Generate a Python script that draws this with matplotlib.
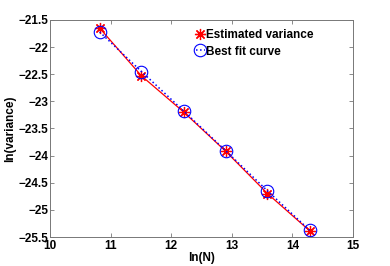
import matplotlib.pyplot as plt

# ln(N) for N = 50k ... 1.6M (doubling)
ln_n = [10.82, 11.51, 12.21, 12.90, 13.59, 14.29]
est_var = [-21.65, -22.53, -23.20, -23.92, -24.70, -25.39]
fit_var = [-21.72, -22.45, -23.18, -23.91, -24.65, -25.38]

xticks = [10, 11, 12, 13, 14, 15]
yticks = [-21.5, -22, -22.5, -23, -23.5, -24, -24.5, -25, -25.5]

plt.rcParams['font.family'] = ['Liberation Sans', 'DejaVu Sans']
plt.rcParams['font.weight'] = 'bold'

fig = plt.figure(figsize=(3.9, 2.66), dpi=100)
ax = fig.add_axes([0.128, 0.109, 0.777, 0.816])

# matlab-style asterisk: 8 thin arms
ax.plot(ln_n, est_var, color='red', ls='-', marker=(8, 2, 0), lw=0.9, ms=8, mew=0.9,
        label='Estimated variance')
ax.plot(ln_n, fit_var, 'b:o', lw=1.1, ms=9, mfc='none', mew=0.8, label='Best fit curve')

ax.set_xlim(10, 15)
ax.set_ylim(-25.5, -21.5)
ax.set_xticks(xticks)
ax.set_yticks(yticks)
ax.set_yticklabels(['\u221221.5', '\u221222', '\u221222.5', '\u221223', '\u221223.5',
                    '\u221224', '\u221224.5', '\u221225', '\u221225.5'])
ax.tick_params(direction='in', top=True, right=True, labelsize=8.5, length=3,
               color='#777777', width=0.6)
ax.tick_params(axis='y', pad=1)
ax.tick_params(axis='x', pad=2)
for s in ax.spines.values():
    s.set_color('#777777')
    s.set_linewidth(0.7)

ax.set_xlabel('ln(N)', fontsize=8.5, fontweight='bold', labelpad=0)
ax.set_ylabel('ln(variance)', fontsize=8.5, fontweight='bold', labelpad=2)

ax.legend(loc='upper left', bbox_to_anchor=(0.45, 1.0), frameon=False, fontsize=8.5,
          handlelength=0.8, handletextpad=0.1, labelspacing=0.35, borderpad=0.3)

fig.savefig('out.png', dpi=100)
